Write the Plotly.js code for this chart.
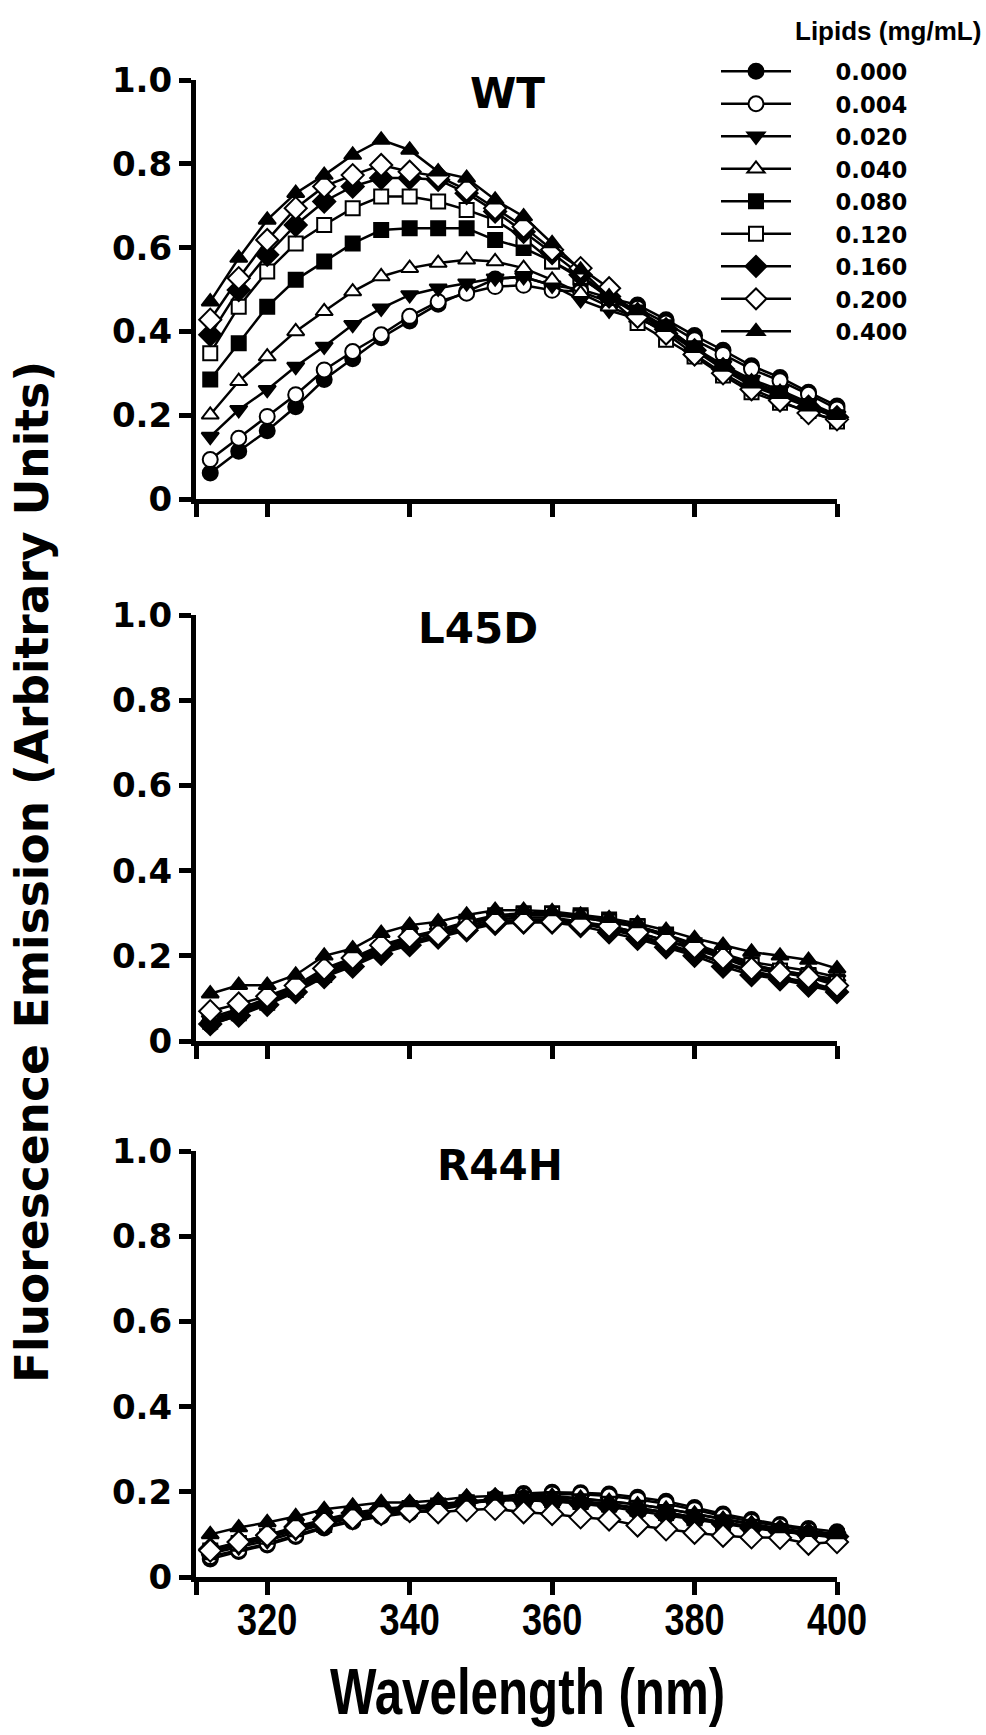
<!DOCTYPE html>
<html>
<head>
<meta charset="utf-8">
<script src="https://cdn.plot.ly/plotly-3.0.1.min.js"></script>
<style>
html,body{margin:0;padding:0;background:#fff;}
#chart{width:986px;height:1735px;}
</style>
</head>
<body>
<div id="chart"></div>
<script>
// ---------- data ----------
const wavelength = [312,316,320,324,328,332,336,340,344,348,352,356,360,364,368,372,376,380,384,388,392,396,400];
const lipidLabels = ['0.000','0.004','0.020','0.040','0.080','0.120','0.160','0.200','0.400'];
const panelNames = ['WT','L45D','R44H'];
const xTickVals = [310,320,340,360,380,400];
const xTickText = ['','320','340','360','380','400'];
const yTickVals = [0,0.2,0.4,0.6,0.8,1.0];
const yTickText = ['0','0.2','0.4','0.6','0.8','1.0'];

// WT
const wt_000 = [0.062,0.114,0.163,0.220,0.285,0.335,0.385,0.425,0.465,0.495,0.525,0.530,0.510,0.500,0.480,0.463,0.428,0.390,0.355,0.318,0.290,0.255,0.222];
const wt_004 = [0.094,0.145,0.197,0.249,0.308,0.352,0.392,0.436,0.471,0.491,0.507,0.510,0.498,0.495,0.470,0.455,0.420,0.380,0.345,0.310,0.282,0.250,0.215];
const wt_020 = [0.149,0.213,0.261,0.316,0.364,0.416,0.455,0.487,0.503,0.515,0.527,0.530,0.510,0.475,0.450,0.430,0.405,0.360,0.320,0.285,0.260,0.230,0.200];
const wt_040 = [0.201,0.281,0.340,0.400,0.448,0.495,0.531,0.551,0.563,0.571,0.567,0.551,0.523,0.491,0.459,0.432,0.400,0.355,0.315,0.280,0.255,0.225,0.195];
const wt_080 = [0.285,0.372,0.459,0.523,0.567,0.610,0.642,0.646,0.646,0.646,0.618,0.599,0.567,0.527,0.487,0.445,0.410,0.360,0.315,0.275,0.250,0.220,0.195];
const wt_120 = [0.348,0.459,0.543,0.610,0.654,0.694,0.722,0.722,0.710,0.690,0.666,0.622,0.567,0.530,0.480,0.420,0.380,0.340,0.295,0.255,0.230,0.210,0.185];
const wt_160 = [0.392,0.499,0.583,0.654,0.710,0.746,0.766,0.766,0.762,0.730,0.686,0.638,0.587,0.535,0.483,0.440,0.405,0.355,0.310,0.270,0.245,0.220,0.195];
const wt_200 = [0.428,0.527,0.618,0.694,0.746,0.773,0.797,0.781,0.770,0.738,0.694,0.650,0.595,0.551,0.503,0.435,0.395,0.345,0.300,0.262,0.235,0.205,0.190];
const wt_400 = [0.471,0.575,0.666,0.730,0.773,0.821,0.857,0.833,0.781,0.766,0.714,0.674,0.610,0.547,0.483,0.450,0.410,0.360,0.315,0.275,0.250,0.220,0.200];

// L45D
const l45d_000 = [0.038,0.060,0.088,0.118,0.152,0.180,0.208,0.230,0.246,0.262,0.278,0.283,0.283,0.276,0.262,0.246,0.224,0.205,0.182,0.160,0.148,0.135,0.115];
const l45d_004 = [0.045,0.065,0.092,0.120,0.155,0.185,0.212,0.233,0.250,0.265,0.280,0.285,0.285,0.278,0.265,0.250,0.228,0.208,0.185,0.165,0.150,0.138,0.120];
const l45d_020 = [0.050,0.070,0.095,0.125,0.160,0.190,0.215,0.240,0.255,0.270,0.285,0.290,0.290,0.280,0.270,0.255,0.235,0.215,0.195,0.175,0.165,0.155,0.145];
const l45d_040 = [0.055,0.075,0.100,0.130,0.165,0.195,0.220,0.245,0.260,0.275,0.290,0.295,0.295,0.290,0.280,0.268,0.250,0.228,0.205,0.185,0.175,0.165,0.150];
const l45d_080 = [0.050,0.068,0.095,0.125,0.160,0.190,0.218,0.242,0.260,0.280,0.295,0.300,0.300,0.295,0.285,0.270,0.250,0.225,0.200,0.180,0.165,0.155,0.140];
const l45d_120 = [0.045,0.065,0.090,0.120,0.155,0.185,0.215,0.240,0.258,0.278,0.290,0.297,0.298,0.290,0.280,0.268,0.245,0.220,0.200,0.178,0.165,0.152,0.135];
const l45d_160 = [0.040,0.060,0.085,0.115,0.150,0.175,0.205,0.225,0.243,0.260,0.275,0.278,0.278,0.270,0.255,0.240,0.220,0.200,0.175,0.155,0.145,0.130,0.115];
const l45d_200 = [0.070,0.088,0.105,0.130,0.170,0.195,0.225,0.245,0.250,0.265,0.280,0.280,0.280,0.275,0.270,0.255,0.235,0.220,0.195,0.170,0.160,0.150,0.130];
const l45d_400 = [0.111,0.131,0.131,0.155,0.200,0.217,0.253,0.272,0.280,0.296,0.307,0.307,0.304,0.296,0.288,0.276,0.260,0.241,0.225,0.209,0.200,0.190,0.170];

// R44H
const r44h_000 = [0.042,0.060,0.075,0.095,0.115,0.130,0.142,0.150,0.158,0.170,0.185,0.196,0.199,0.198,0.195,0.187,0.178,0.163,0.148,0.135,0.123,0.114,0.106];
const r44h_004 = [0.048,0.063,0.078,0.098,0.118,0.133,0.145,0.152,0.160,0.172,0.183,0.192,0.195,0.194,0.190,0.182,0.172,0.158,0.143,0.130,0.120,0.110,0.100];
const r44h_020 = [0.055,0.070,0.085,0.105,0.125,0.140,0.150,0.158,0.165,0.172,0.180,0.185,0.187,0.183,0.178,0.170,0.160,0.148,0.135,0.123,0.112,0.104,0.096];
const r44h_040 = [0.060,0.075,0.090,0.110,0.130,0.145,0.155,0.162,0.168,0.175,0.180,0.180,0.178,0.175,0.170,0.162,0.152,0.140,0.128,0.118,0.108,0.100,0.092];
const r44h_080 = [0.058,0.078,0.095,0.112,0.122,0.140,0.155,0.160,0.165,0.175,0.182,0.185,0.183,0.178,0.172,0.162,0.152,0.140,0.128,0.118,0.108,0.100,0.095];
const r44h_120 = [0.062,0.080,0.095,0.113,0.130,0.145,0.155,0.162,0.168,0.175,0.180,0.182,0.180,0.176,0.170,0.160,0.150,0.138,0.127,0.117,0.108,0.100,0.095];
const r44h_160 = [0.065,0.082,0.098,0.118,0.135,0.150,0.160,0.165,0.170,0.178,0.182,0.180,0.178,0.172,0.165,0.155,0.145,0.135,0.125,0.115,0.107,0.100,0.095];
const r44h_200 = [0.062,0.082,0.098,0.115,0.128,0.138,0.148,0.155,0.152,0.157,0.160,0.152,0.148,0.140,0.135,0.121,0.112,0.104,0.097,0.093,0.092,0.078,0.082];
const r44h_400 = [0.100,0.116,0.128,0.142,0.159,0.167,0.175,0.175,0.180,0.188,0.190,0.190,0.190,0.185,0.178,0.170,0.160,0.148,0.136,0.125,0.114,0.105,0.100];

const panelSeries = [
  [wt_000,wt_004,wt_020,wt_040,wt_080,wt_120,wt_160,wt_200,wt_400],
  [l45d_000,l45d_004,l45d_020,l45d_040,l45d_080,l45d_120,l45d_160,l45d_200,l45d_400],
  [r44h_000,r44h_004,r44h_020,r44h_040,r44h_080,r44h_120,r44h_160,r44h_200,r44h_400]
];

// ---------- styles ----------
const symbols = ['circle','circle','triangle-down','triangle-up','square','square','diamond','diamond','triangle-up'];
const fills   = ['#000','#fff','#000','#fff','#000','#fff','#000','#fff','#000'];
const sizes   = [15,15,15,15,14,14,17,17,15];

const W = 986, H = 1735;
const xDom = [196/W, 837/W];
const yDoms = [
  [1-499/H, 1-80/H],
  [1-1041/H, 1-615/H],
  [1-1577/H, 1-1151/H]
];

const BOLD = 'DejaVu Sans';
const ARIAL = 'Liberation Sans';
const PAD = '\u00A0\u00A0\u00A0\u00A0\u00A0';

const traces = [];
panelSeries.forEach((series, p) => {
  const sfx = p === 0 ? '' : String(p+1);
  series.forEach((ys, s) => {
    traces.push({
      type: 'scatter',
      mode: 'lines+markers',
      x: wavelength,
      y: ys,
      xaxis: 'x' + sfx,
      yaxis: 'y' + sfx,
      name: PAD + lipidLabels[s],
      legendgroup: lipidLabels[s],
      showlegend: p === 0,
      cliponaxis: false,
      line: {color: '#000', width: 2.5},
      marker: {symbol: symbols[s], size: sizes[s], color: fills[s], line: {color: '#000', width: 2}}
    });
  });
});

const layout = {
  width: W, height: H,
  margin: {l:0, r:0, t:0, b:0},
  paper_bgcolor: '#fff', plot_bgcolor: 'rgba(0,0,0,0)',
  font: {family: BOLD, color: '#000'},
  showlegend: true,
  legend: {
    x: 716/W, y: 1-50/H, xanchor: 'left', yanchor: 'top',
    bgcolor: 'rgba(0,0,0,0)', borderwidth: 0,
    font: {family: BOLD, weight: 'bold', size: 22.7, color: '#000'},
    itemwidth: 70, tracegroupgap: 0
  },
  annotations: []
};

for (let p = 0; p < 3; p++) {
  const sfx = p === 0 ? '' : String(p+1);
  layout['xaxis' + sfx] = {
    domain: xDom, range: [310, 400], anchor: 'y' + sfx,
    showline: true, linewidth: 5, linecolor: '#000', mirror: false,
    ticks: 'outside', ticklen: 13, tickwidth: 5, tickcolor: '#000',
    tickmode: 'array', tickvals: xTickVals, ticktext: xTickText,
    showticklabels: p === 2,
    tickfont: {family: ARIAL, weight: 'bold', size: 44, color: '#000'},
    showgrid: false, zeroline: false, fixedrange: true
  };
  layout['yaxis' + sfx] = {
    domain: yDoms[p], range: [0, 1], anchor: 'x' + sfx,
    showline: true, linewidth: 5, linecolor: '#000',
    ticks: 'outside', ticklen: 12, tickwidth: 5, tickcolor: '#000',
    tickmode: 'array', tickvals: yTickVals, ticktext: yTickText,
    tickfont: {family: BOLD, weight: 'bold', size: 34, color: '#000'},
    showgrid: false, zeroline: false, fixedrange: true
  };
}

const titlePos = [[507/W, 1-94/H], [478/W, 1-628/H], [500/W, 1-1165/H]];
panelNames.forEach((t, i) => {
  layout.annotations.push({
    text: t, xref: 'paper', yref: 'paper', x: titlePos[i][0], y: titlePos[i][1],
    xanchor: 'center', yanchor: 'middle', showarrow: false,
    font: {family: BOLD, weight: 'bold', size: 42, color: '#000'}
  });
});
layout.annotations.push({
  text: 'Fluorescence Emission (Arbitrary Units)', xref: 'paper', yref: 'paper',
  x: 32/W, y: 1-872/H, xanchor: 'center', yanchor: 'middle', textangle: -90, showarrow: false,
  font: {family: BOLD, weight: 'bold', size: 45.5, color: '#000'}
});
layout.annotations.push({
  text: 'Wavelength (nm)', xref: 'paper', yref: 'paper',
  x: 527/W, y: 1-1692/H, xanchor: 'center', yanchor: 'middle', showarrow: false,
  font: {family: ARIAL, weight: 'bold', size: 64, color: '#000'}
});
layout.annotations.push({
  text: 'Lipids (mg/mL)', xref: 'paper', yref: 'paper',
  x: 983/W, y: 1-31/H, xanchor: 'right', yanchor: 'middle', showarrow: false,
  font: {family: ARIAL, weight: 'bold', size: 26, color: '#000'}
});

// condense Arial-style text to imitate a narrow bold face
function condense(el, f) {
  const w = el.getComputedTextLength();
  if (w > 0) {
    el.setAttribute('textLength', (w * f).toFixed(2));
    el.setAttribute('lengthAdjust', 'spacingAndGlyphs');
  }
}

Plotly.newPlot('chart', traces, layout, {staticPlot: true, displayModeBar: false}).then(gd => {
  gd.querySelectorAll('.x3tick text').forEach(el => {
    condense(el, 0.82);
    const t = el.getAttribute('transform') || '';
    el.setAttribute('transform', t + ' translate(0,-13)');
  });
  gd.querySelectorAll('.annotation-text').forEach(el => {
    if (el.textContent === 'Wavelength (nm)') condense(el, 0.77);
  });
});
</script>
</body>
</html>
